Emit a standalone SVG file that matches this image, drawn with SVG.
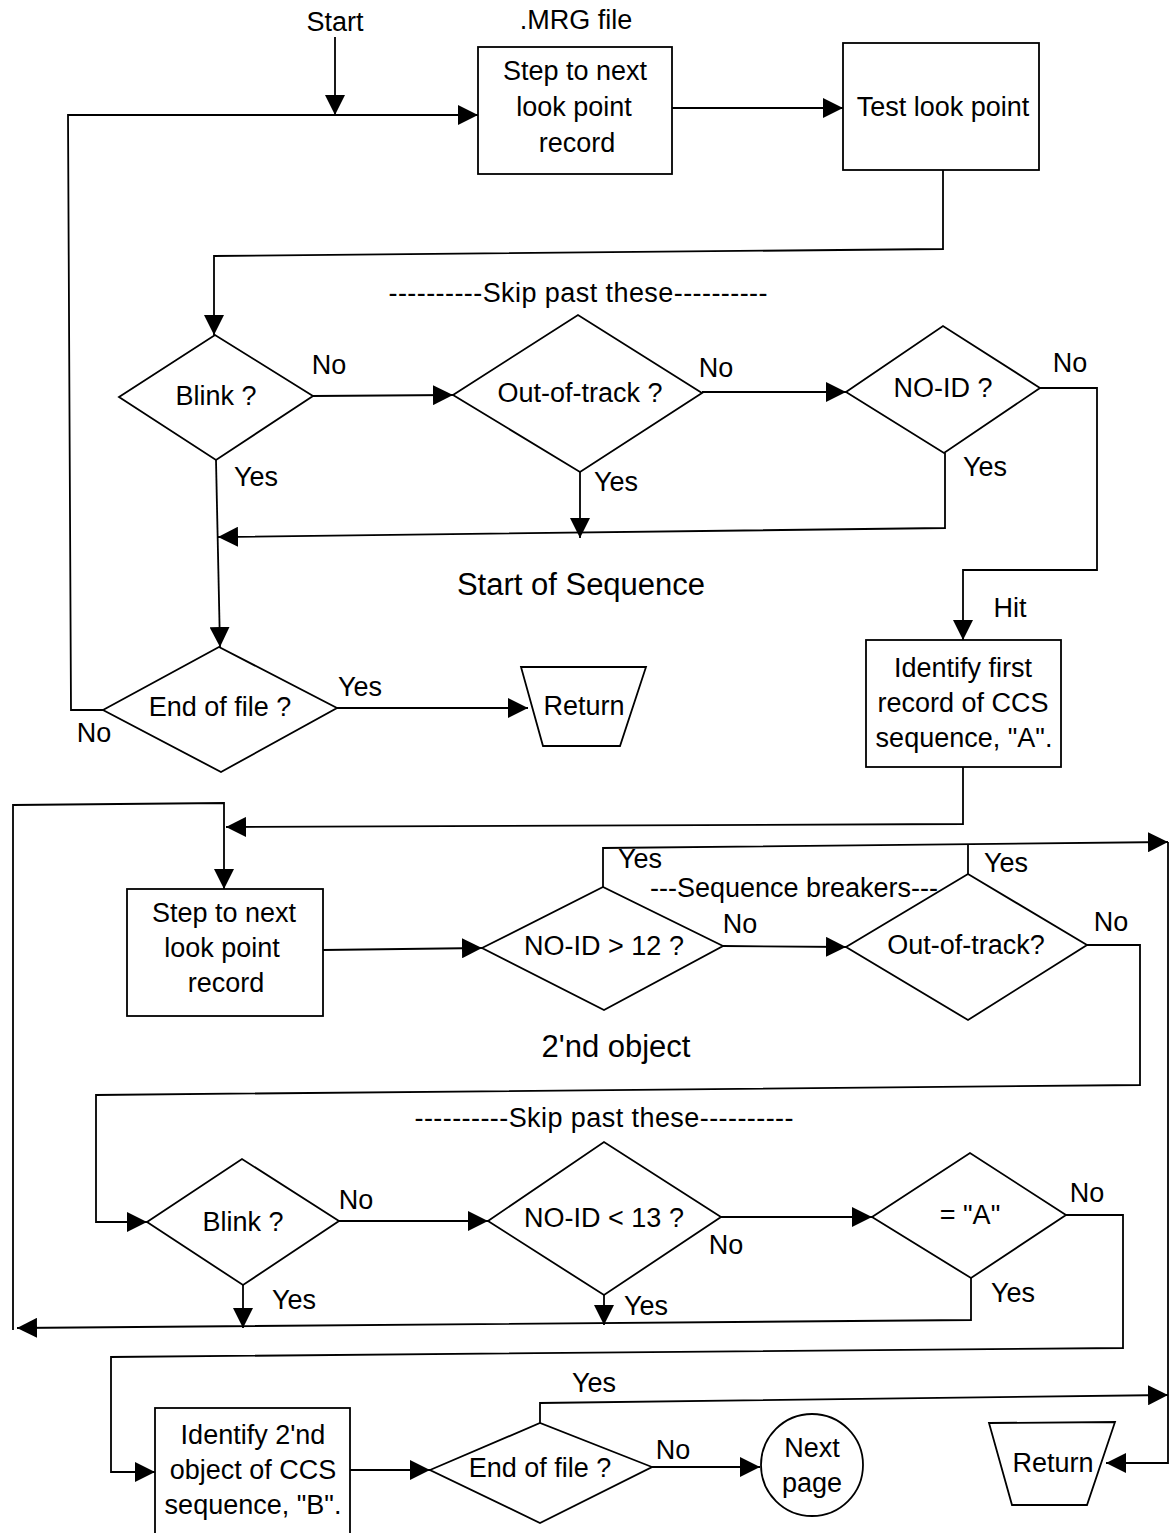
<svg xmlns="http://www.w3.org/2000/svg" width="1171" height="1533" viewBox="0 0 1171 1533">
<style>
  text { font-family: "Liberation Sans", Arial, Helvetica, sans-serif; font-size: 27px; fill: #000; text-anchor: middle; dominant-baseline: central; }
  .big { font-size: 31px; }
  .shape { fill: #fff; stroke: #000; stroke-width: 1.8; }
  .wire { fill: none; stroke: #000; stroke-width: 1.8; }
  .arrow { marker-end: url(#head); }
</style>
<defs>
  <marker id="head" markerUnits="userSpaceOnUse" markerWidth="20" markerHeight="20" viewBox="0 0 20 20" refX="20" refY="10" orient="auto">
    <path d="M0,0 L20,10 L0,20 Z" fill="#000"/>
  </marker>
</defs>
<rect width="1171" height="1533" fill="#fff"/>

<!-- flow lines -->
<g id="connectors">
  <path class="wire arrow" d="M335,37 V115"/>
  <path class="wire arrow" d="M103,710 L71,710 L68,115 L478,115"/>
  <path class="wire arrow" d="M672,108 L843,108"/>
  <path class="wire arrow" d="M943,170 V249 L214,256 V335"/>
  <path class="wire arrow" d="M313,396 L453,395"/>
  <path class="wire arrow" d="M702,392 L846,392"/>
  <path class="wire arrow" d="M1040,388 H1097 V570 H963 V640"/>
  <path class="wire arrow" d="M945,453 V528 L218,537"/>
  <path class="wire arrow" d="M580,472 V538"/>
  <path class="wire arrow" d="M216,460 L220,647"/>
  <path class="wire arrow" d="M337,708 L528,708"/>

  <path class="wire arrow" d="M963,767 V824 L226,827"/>
  <path class="wire arrow" d="M13,1330 V805 L224,803 V889"/>
  <path class="wire arrow" d="M323,950 L482,948"/>
  <path class="wire arrow" d="M723,946 L846,947"/>
  <path class="wire arrow" d="M603,887 V848 L1168,842"/>
  <path class="wire" d="M968,874 V845"/>
  <path class="wire arrow" d="M1168,842 V1463 H1106"/>
  <path class="wire arrow" d="M1087,945 H1140 V1085 L96,1095 V1222 H147"/>

  <path class="wire arrow" d="M339,1221 L488,1221"/>
  <path class="wire arrow" d="M243,1285 V1328"/>
  <path class="wire arrow" d="M721,1217 L872,1217"/>
  <path class="wire arrow" d="M604,1295 V1325"/>
  <path class="wire arrow" d="M971,1278 V1320 L17,1328"/>
  <path class="wire arrow" d="M1066,1215 H1123 V1348 L111,1357 V1472 H155"/>
  <path class="wire arrow" d="M350,1470 L430,1470"/>
  <path class="wire arrow" d="M540,1423 V1403 L1168,1395"/>
  <path class="wire arrow" d="M652,1467 L760,1467"/>
</g>

<!-- first pass: find the start of a sequence -->
<g id="start">
  <text x="335" y="22">Start</text>
</g>
<g id="step1">
  <text x="576" y="20">.MRG file</text>
  <rect class="shape" x="478" y="47" width="194" height="127"/>
  <text x="575" y="71">Step to next</text>
  <text x="574" y="107">look point</text>
  <text x="577" y="143">record</text>
</g>
<g id="test">
  <rect class="shape" x="843" y="43" width="196" height="127"/>
  <text x="943" y="107">Test look point</text>
</g>
<g id="blink1">
  <polygon class="shape" points="119,397 215,335 313,396 216,460"/>
  <text x="216" y="396">Blink ?</text>
</g>
<g id="oot1">
  <polygon class="shape" points="453,395 578,315 702,393 580,472"/>
  <text x="580" y="393">Out-of-track ?</text>
</g>
<g id="noid1">
  <polygon class="shape" points="846,392 943,326 1040,388 944,453"/>
  <text x="943" y="388">NO-ID ?</text>
</g>
<g id="eof1">
  <polygon class="shape" points="103,710 219,647 337,708 221,772"/>
  <text x="220" y="707">End of file ?</text>
</g>
<g id="return1">
  <polygon class="shape" points="521,667 646,667 620,746 543,746"/>
  <text x="584" y="706">Return</text>
</g>
<g id="first">
  <rect class="shape" x="866" y="640" width="195" height="127"/>
  <text x="963" y="668">Identify first</text>
  <text x="963" y="703">record of CCS</text>
  <text x="964" y="738">sequence, "A".</text>
</g>

<!-- second pass: find the second object -->
<g id="step2">
  <rect class="shape" x="127" y="889" width="196" height="127"/>
  <text x="224" y="913">Step to next</text>
  <text x="222" y="948">look point</text>
  <text x="226" y="983">record</text>
</g>
<g id="noid12">
  <polygon class="shape" points="482,948 603,887 723,946 604,1010"/>
  <text x="604" y="946">NO-ID &gt; 12 ?</text>
</g>
<g id="oot2">
  <polygon class="shape" points="846,947 968,874 1087,945 968,1020"/>
  <text x="966" y="945">Out-of-track?</text>
</g>
<g id="blink2">
  <polygon class="shape" points="147,1222 242,1159 339,1221 243,1285"/>
  <text x="243" y="1222">Blink ?</text>
</g>
<g id="noid13">
  <polygon class="shape" points="488,1221 604,1142 721,1217 604,1295"/>
  <text x="604" y="1218">NO-ID &lt; 13 ?</text>
</g>
<g id="eqA">
  <polygon class="shape" points="872,1217 970,1153 1066,1215 971,1278"/>
  <text x="970" y="1215">= "A"</text>
</g>
<g id="second">
  <rect class="shape" x="155" y="1408" width="195" height="135"/>
  <text x="253" y="1435">Identify 2'nd</text>
  <text x="253" y="1470">object of CCS</text>
  <text x="253" y="1505">sequence, "B".</text>
</g>
<g id="eof2">
  <polygon class="shape" points="430,1470 540,1423 652,1467 540,1523"/>
  <text x="540" y="1468">End of file ?</text>
</g>
<g id="nextpage">
  <circle class="shape" cx="812" cy="1465" r="51"/>
  <text x="812" y="1448">Next</text>
  <text x="812" y="1483">page</text>
</g>
<g id="return2">
  <polygon class="shape" points="989,1423 1115,1422 1087,1505 1012,1505"/>
  <text x="1053" y="1463">Return</text>
</g>

<!-- branch labels and section headings -->
<g id="labels">
  <text x="578" y="293" textLength="379">----------Skip past these----------</text>
  <text x="329" y="365">No</text>
  <text x="256" y="477">Yes</text>
  <text x="716" y="368">No</text>
  <text x="616" y="482">Yes</text>
  <text x="1070" y="363">No</text>
  <text x="985" y="467">Yes</text>
  <text x="1010" y="608">Hit</text>
  <text class="big" x="581" y="584">Start of Sequence</text>
  <text x="360" y="687">Yes</text>
  <text x="94" y="733">No</text>

  <text x="640" y="859">Yes</text>
  <text x="794" y="888">---Sequence breakers---</text>
  <text x="1006" y="863">Yes</text>
  <text x="740" y="924">No</text>
  <text x="1111" y="922">No</text>
  <text class="big" x="616" y="1046">2'nd object</text>

  <text x="604" y="1118" textLength="379">----------Skip past these----------</text>
  <text x="356" y="1200">No</text>
  <text x="294" y="1300">Yes</text>
  <text x="726" y="1245">No</text>
  <text x="646" y="1306">Yes</text>
  <text x="1087" y="1193">No</text>
  <text x="1013" y="1293">Yes</text>
  <text x="594" y="1383">Yes</text>
  <text x="673" y="1450">No</text>
</g>
</svg>
